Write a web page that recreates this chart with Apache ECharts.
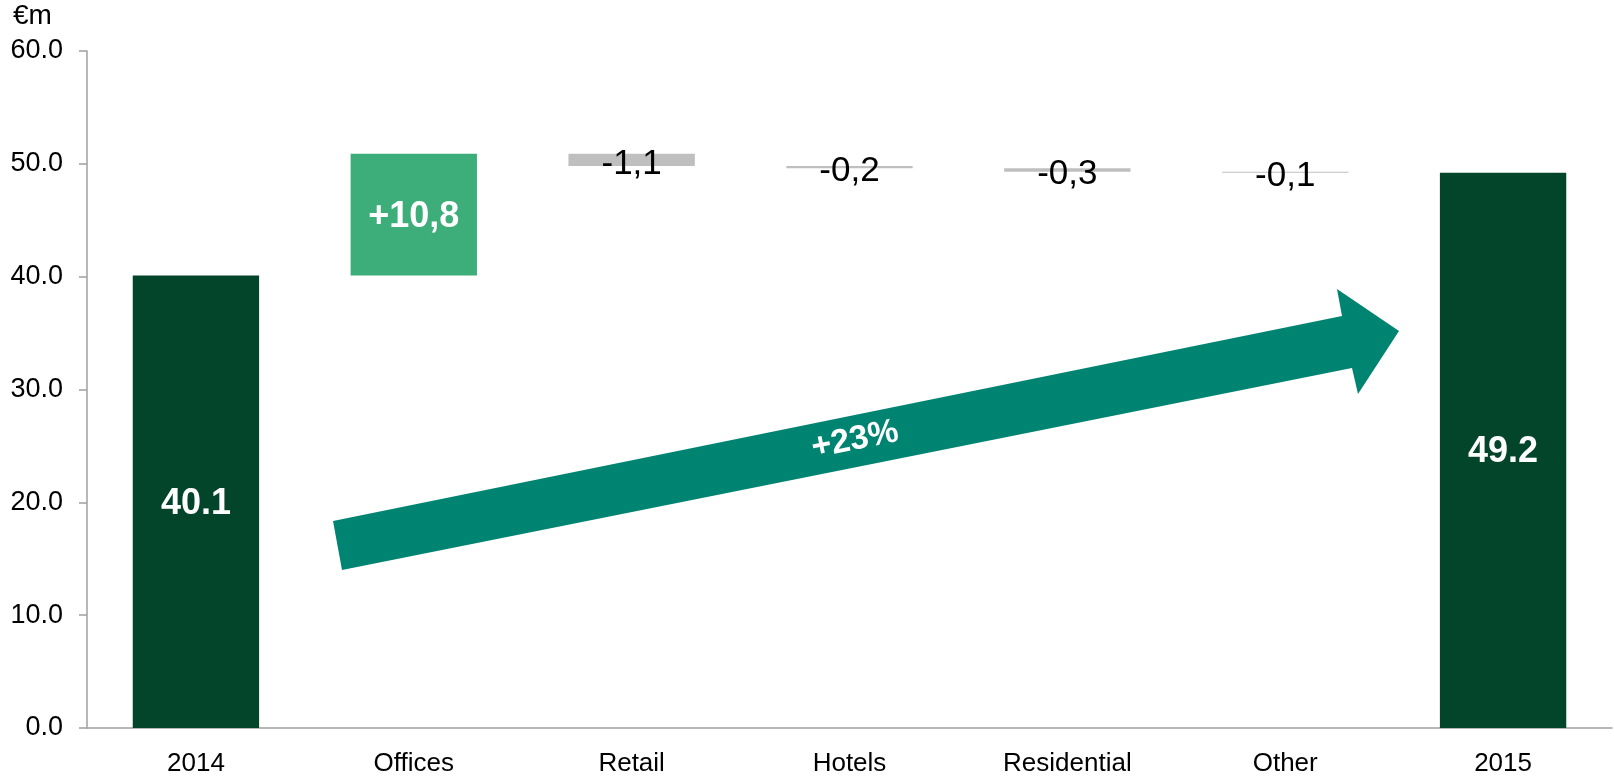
<!DOCTYPE html>
<html><head><meta charset="utf-8">
<script src="https://cdn.jsdelivr.net/npm/echarts@6/dist/echarts.min.js"></script>
<style>html,body{margin:0;padding:0;background:#fff}#c{width:1614px;height:777px}</style>
</head><body><div id="c"></div>
<script>
// ---- data ----
const categories = ['2014', 'Offices', 'Retail', 'Hotels', 'Residential', 'Other', '2015'];
const changes = [40.1, 10.8, -1.1, -0.2, -0.3, -0.1, 49.2];
const kinds = ['total', 'up', 'down', 'down', 'down', 'down', 'total'];
const valueLabels = ['40.1', '+10,8', '-1,1', '-0,2', '-0,3', '-0,1', '49.2'];
const yMin = 0, yMax = 60, yStep = 10;
const growthLabel = '+23%';
const unitLabel = '€m';

// ---- build waterfall ----
const base = [], height = [];
let running = 0;
changes.forEach((v, i) => {
  if (kinds[i] === 'total') { base.push(0); height.push(v); running = v; }
  else if (kinds[i] === 'up') { base.push(running); height.push(v); running += v; }
  else { running += v; base.push(+running.toFixed(2)); height.push(-v); }
});
const colors = { total: '#03452A', up: '#3DAE79', down: '#BFBFBF' };
const FONT = '"Liberation Sans", Arial, sans-serif';

const chart = echarts.init(document.getElementById('c'), null, { renderer: 'canvas' });
chart.setOption({
  animation: false,
  backgroundColor: '#fff',
  title: { text: unitLabel, left: 13, top: 2, padding: 0,
    textStyle: { color: '#000', fontSize: 28, fontWeight: 'normal', fontFamily: FONT } },
  grid: { left: 87, right: 2, top: 51, bottom: 49 },
  xAxis: {
    type: 'category', data: categories,
    axisLine: { lineStyle: { color: '#A0A0A0', width: 1.5 } },
    axisTick: { length: 8, lineStyle: { color: '#A0A0A0', width: 1.5 } },
    axisLabel: { color: '#000', fontSize: 26, fontFamily: FONT, margin: 23 }
  },
  yAxis: {
    type: 'value', min: yMin, max: yMax, interval: yStep,
    splitLine: { show: false },
    axisLine: { show: true, lineStyle: { color: '#A0A0A0', width: 1.5 } },
    axisTick: { show: true, length: 8, lineStyle: { color: '#A0A0A0', width: 1.5 } },
    axisLabel: { color: '#000', fontSize: 27, fontFamily: FONT, margin: 24,
      formatter: v => v.toFixed(1) }
  },
  series: [
    { type: 'bar', stack: 'w', data: base, itemStyle: { color: 'transparent' },
      barWidth: '58%', silent: true },
    { type: 'bar', stack: 'w', barWidth: '58%',
      data: height.map((h, i) => ({
        value: h,
        itemStyle: { color: colors[kinds[i]] },
        label: kinds[i] === 'down'
          ? { color: '#000', fontWeight: 'normal', fontSize: 35, offset: [0, 4] }
          : { color: '#fff', fontWeight: 'bold', fontSize: 36, offset: [0, 2] }
      })),
      label: { show: true, position: 'inside', fontSize: 35, fontFamily: FONT,
        formatter: p => valueLabels[p.dataIndex] }
    }
  ],
  graphic: [
    { type: 'polygon', z: 10,
      shape: { points: [[342, 570], [333, 521], [1342, 316], [1337, 289], [1399, 331], [1358, 394], [1352, 368]] },
      style: { fill: '#008472' } },
    { type: 'text', z: 11, x: 855, y: 440, rotation: 0.197,
      style: { text: growthLabel, fill: '#fff', font: 'bold 34px ' + FONT,
        textAlign: 'center', textVerticalAlign: 'middle' } }
  ]
});
</script>
</body></html>
